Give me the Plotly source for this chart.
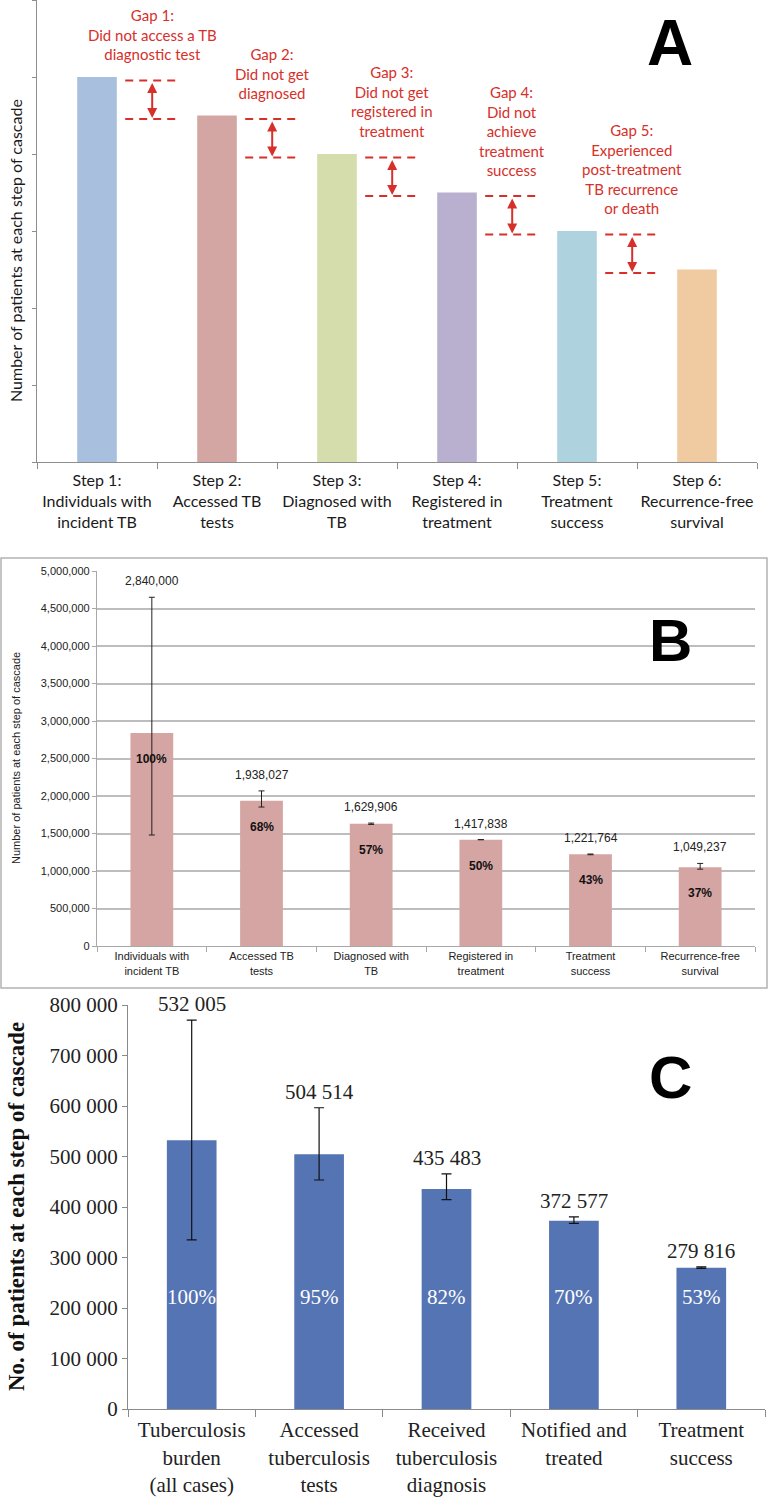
import plotly.graph_objects as go

# ---- panel A: conceptual cascade (arbitrary units) ----
A_steps = ["Step 1:<br>Individuals with<br>incident TB",
           "Step 2:<br>Accessed TB<br>tests",
           "Step 3:<br>Diagnosed with<br>TB",
           "Step 4:<br>Registered in<br>treatment",
           "Step 5:<br>Treatment<br>success",
           "Step 6:<br>Recurrence-free<br>survival"]
A_values = [5, 4.5, 4, 3.5, 3, 2.5]
A_colors = ["#a9bfde", "#d3a6a3", "#d4ddab", "#b9afcf", "#aed3df", "#f0caa1"]
A_ticks = [0, 1, 2, 3, 4, 5, 6]
A_gaps = ["Gap 1:<br>Did not access a TB<br>diagnostic test",
          "Gap 2:<br>Did not get<br>diagnosed",
          "Gap 3:<br>Did not get<br>registered in<br>treatment",
          "Gap 4:<br>Did not<br>achieve<br>treatment<br>success",
          "Gap 5:<br>Experienced<br>post-treatment<br>TB recurrence<br>or death"]

# ---- panel B ----
B_steps = ["Individuals with<br>incident TB", "Accessed TB<br>tests", "Diagnosed with<br>TB",
           "Registered in<br>treatment", "Treatment<br>success", "Recurrence-free<br>survival"]
B_values = [2840000, 1938027, 1629906, 1417838, 1221764, 1049237]
B_err_plus = [1810000, 130000, 9000, 0, 5000, 52000]
B_err_minus = [1360000, 85000, 9000, 0, 5000, 25000]
B_pct = ["100%", "68%", "57%", "50%", "43%", "37%"]

# ---- panel C ----
C_steps = ["Tuberculosis<br>burden<br>(all cases)", "Accessed<br>tuberculosis<br>tests",
           "Received<br>tuberculosis<br>diagnosis", "Notified and<br>treated", "Treatment<br>success"]
C_values = [532005, 504514, 435483, 372577, 279816]
C_err_plus = [238000, 92000, 30000, 8000, 1500]
C_err_minus = [197000, 51000, 21000, 5000, 1500]
C_pct = ["100%", "95%", "82%", "70%", "53%"]
C_ticks = [0, 100000, 200000, 300000, 400000, 500000, 600000, 700000, 800000]

W, H = 768, 1500
RED = "#d7302a"


def px(x):
    return x / W


def py(y):
    return 1 - y / H


def spaced(v):
    return f"{v:,}".replace(",", " ")


fig = go.Figure()

fig.add_trace(go.Bar(x=A_steps, y=A_values, marker=dict(color=A_colors, line_width=0),
                     width=0.33, xaxis="x", yaxis="y"))
fig.add_trace(go.Bar(x=B_steps, y=B_values, marker=dict(color="#d4a5a3", line_width=0),
                     width=0.39, xaxis="x2", yaxis="y2",
                     error_y=dict(type="data", symmetric=False, array=B_err_plus,
                                  arrayminus=B_err_minus, color="#222", thickness=1, width=3)))
fig.add_trace(go.Bar(x=C_steps, y=C_values, marker=dict(color="#5574b4", line_width=0),
                     width=0.39, xaxis="x3", yaxis="y3",
                     error_y=dict(type="data", symmetric=False, array=C_err_plus,
                                  arrayminus=C_err_minus, color="#111", thickness=1.2, width=5)))

annotations = []
shapes = []

# gaps between steps in panel A
for i, label in enumerate(A_gaps):
    xc = i + 0.46
    hi = A_values[i] - 0.045
    lo = A_values[i + 1] - 0.045
    for yv in (hi, lo):
        shapes.append(dict(type="line", xref="x", yref="y", x0=xc - 0.225, x1=xc + 0.225,
                           y0=yv, y1=yv, line=dict(color=RED, width=2, dash="8px,6px")))
    annotations.append(dict(x=xc, y=lo, ax=xc, ay=hi, xref="x", yref="y", axref="x", ayref="y",
                            text="", showarrow=True, arrowhead=2, arrowsize=1, arrowwidth=2,
                            arrowside="end+start", arrowcolor=RED, standoff=1, startstandoff=1))
    annotations.append(dict(x=xc, y=A_values[i], xref="x", yref="y", text=label, showarrow=False,
                            xanchor="center", yanchor="bottom", yshift=12, align="center",
                            font=dict(family="Lato", size=15, color=RED)))

# value and percent labels, panel B
for cat, v, ep, pct in zip(B_steps, B_values, B_err_plus, B_pct):
    annotations.append(dict(x=cat, y=v + ep, xref="x2", yref="y2", text=f"{v:,}", showarrow=False,
                            xanchor="center", yanchor="bottom", yshift=7,
                            font=dict(family="Liberation Sans", size=12, color="#222")))
    annotations.append(dict(x=cat, y=v, xref="x2", yref="y2", text=f"<b>{pct}</b>", showarrow=False,
                            xanchor="center", yanchor="middle", yshift=-26,
                            font=dict(family="Liberation Sans", size=12, color="#111")))

# value and percent labels, panel C
for cat, v, ep, pct in zip(C_steps, C_values, C_err_plus, C_pct):
    annotations.append(dict(x=cat, y=v + ep, xref="x3", yref="y3", text=spaced(v), showarrow=False,
                            xanchor="center", yanchor="bottom", yshift=2,
                            font=dict(family="Liberation Serif", size=21, color="#222")))
    annotations.append(dict(x=cat, y=222000, xref="x3", yref="y3", text=pct, showarrow=False,
                            xanchor="center", yanchor="middle",
                            font=dict(family="Liberation Serif", size=21, color="white")))

# y titles
titles = [("Number of patients at each step of cascade", 15, 251, "Lato", 16, "#1a1a1a"),
          ("Number of patients at each step of cascade", 16, 758, "Liberation Sans", 11, "#222"),
          ("<b>No. of patients at each step of cascade</b>", 16, 1207, "Liberation Serif", 23, "#111")]
for text, tx, ty, fam, size, col in titles:
    annotations.append(dict(x=px(tx), y=py(ty), xref="paper", yref="paper", textangle=-90,
                            text=text, showarrow=False, xanchor="center", yanchor="middle",
                            font=dict(family=fam, size=size, color=col)))

# panel letters
for letter, lx, ly, size in (("A", 670, 43, 64), ("B", 670, 640, 60), ("C", 670, 1077, 60)):
    annotations.append(dict(x=px(lx), y=py(ly), xref="paper", yref="paper", text=f"<b>{letter}</b>",
                            showarrow=False, xanchor="center", yanchor="middle",
                            font=dict(family="Liberation Sans", size=size, color="black")))

# frame around panel B
shapes.append(dict(type="rect", xref="paper", yref="paper", x0=px(1), x1=px(767),
                   y0=py(988), y1=py(558), line=dict(color="#b3b3b3", width=1.5)))

fig.update_layout(
    width=W, height=H, template="none", showlegend=False,
    margin=dict(l=0, r=0, t=0, b=0, autoexpand=False),
    paper_bgcolor="white", plot_bgcolor="rgba(0,0,0,0)",
    annotations=annotations, shapes=shapes,
    xaxis=dict(domain=[px(37), px(757)], anchor="y", type="category", range=[-0.5, 5.5],
               showline=True, linecolor="#8e8e8e", linewidth=1.2, ticks="outside",
               tickson="boundaries", ticklen=6, tickcolor="#8e8e8e", showgrid=False, tickangle=0,
               tickfont=dict(family="Lato", size=16, color="#1a1a1a"), ticklabelstandoff=4,
               automargin=False),
    yaxis=dict(domain=[py(462), 1.0], anchor="x", range=[0, 6], tickvals=A_ticks,
               showticklabels=False, ticks="outside", ticklen=4, tickcolor="#8e8e8e",
               showline=True, linecolor="#8e8e8e", linewidth=1.2, showgrid=False,
               zeroline=False, automargin=False),
    xaxis2=dict(domain=[px(97), px(755)], anchor="y2", type="category", range=[-0.5, 5.5],
                showline=True, linecolor="#a8a8a8", linewidth=1.2, ticks="outside",
                tickson="boundaries", ticklen=5, tickcolor="#a8a8a8", showgrid=False, tickangle=0,
                tickfont=dict(family="Liberation Sans", size=11, color="#222"),
                ticklabelstandoff=0, automargin=False),
    yaxis2=dict(domain=[py(946), py(571)], anchor="x2", range=[0, 5000000], dtick=500000,
                tickformat=",", showgrid=True, gridcolor="#bdbdbd", gridwidth=1.5,
                showline=True, linecolor="#a8a8a8", linewidth=1.2, ticks="outside", ticklen=4,
                tickcolor="#a8a8a8", zeroline=False,
                tickfont=dict(family="Liberation Sans", size=11, color="#222"), automargin=False),
    xaxis3=dict(domain=[px(128), px(765)], anchor="y3", type="category", range=[-0.5, 4.5],
                showline=True, linecolor="#8a8a8a", linewidth=1.2, ticks="outside",
                tickson="boundaries", ticklen=7, tickcolor="#8a8a8a", showgrid=False, tickangle=0,
                tickfont=dict(family="Liberation Serif", size=21, color="#222"),
                ticklabelstandoff=2, automargin=False),
    yaxis3=dict(domain=[py(1409), py(1005)], anchor="x3", range=[0, 800000], tickvals=C_ticks,
                ticktext=[spaced(t) for t in C_ticks], showgrid=False, showline=True,
                linecolor="#8a8a8a", linewidth=1.2, ticks="outside", ticklen=5, tickcolor="#8a8a8a",
                zeroline=False, tickfont=dict(family="Liberation Serif", size=21, color="#222"),
                automargin=False),
)

# the page body has a default 8px margin; drop it so the figure sits at the window corner
fig.write_html("out.html", config={"displayModeBar": False},
               post_script="document.body.style.margin = '0px';")
